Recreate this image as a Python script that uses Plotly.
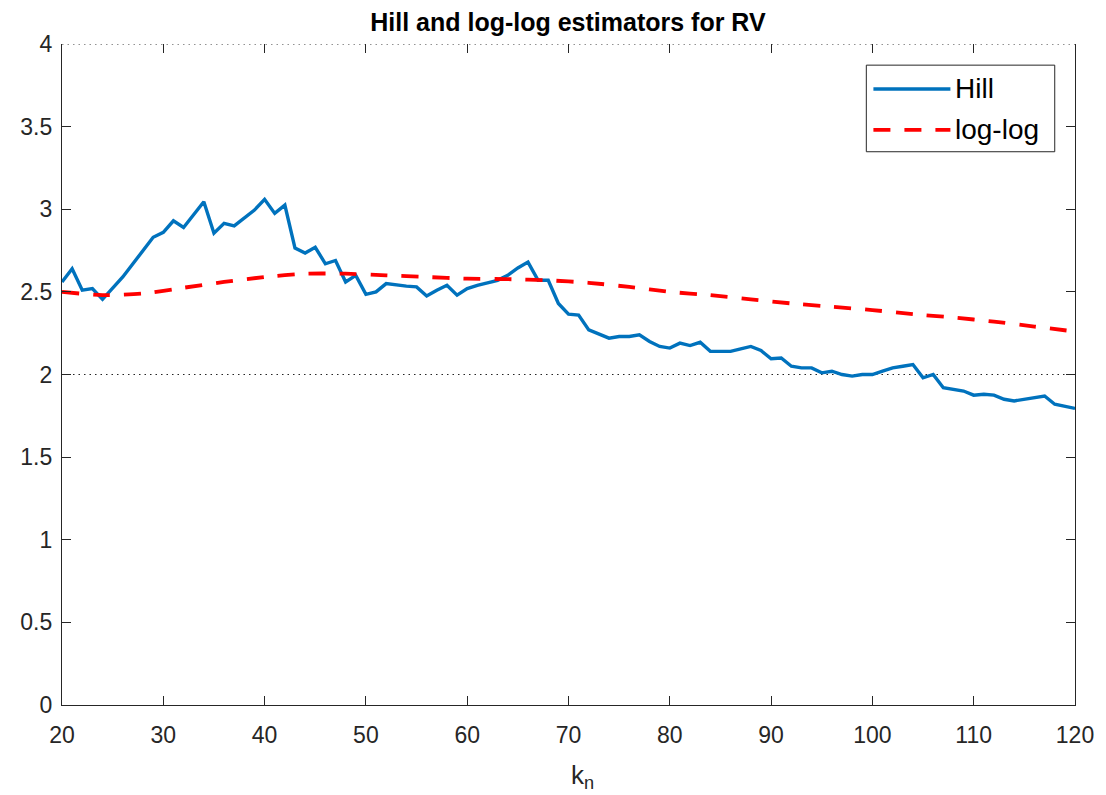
import plotly.graph_objects as go

# Number of upper order statistics used by each estimator
k_hill = list(range(20, 121))

# Hill estimates of the tail index, one per k
hill = [
    2.56, 2.64, 2.51, 2.52, 2.455, 2.525, 2.59, 2.67, 2.75, 2.83,
    2.86, 2.93, 2.89, 2.965, 3.045, 2.855, 2.915, 2.90, 2.945, 2.995,
    3.06, 2.975, 3.025, 2.765, 2.735, 2.77, 2.67, 2.69, 2.56, 2.60,
    2.485, 2.50, 2.55, 2.54, 2.535, 2.53, 2.475, 2.51, 2.54, 2.48,
    2.52, 2.54, 2.555, 2.57, 2.60, 2.645, 2.68, 2.57, 2.57, 2.43,
    2.365, 2.36, 2.27, 2.245, 2.22, 2.23, 2.23, 2.24, 2.20, 2.17,
    2.16, 2.19, 2.175, 2.195, 2.14, 2.14, 2.14, 2.155, 2.17, 2.145,
    2.095, 2.10, 2.05, 2.04, 2.04, 2.01, 2.02, 2.00, 1.99, 2.00,
    2.00, 2.02, 2.04, 2.05, 2.06, 1.98, 2.00, 1.92, 1.91, 1.90,
    1.875, 1.88, 1.875, 1.85, 1.84, 1.85, 1.865, 1.87, 1.82, 1.81,
    1.795,
]

# log-log (regression) estimates of the tail index
k_loglog = [20, 24, 28, 32, 36, 40, 44, 48, 52, 56, 60, 64, 68,
            72, 76, 80, 84, 88, 92, 96, 100, 104, 108, 112, 116, 120]
loglog = [2.50, 2.48, 2.49, 2.525, 2.56, 2.59, 2.61, 2.61, 2.60, 2.59,
          2.58, 2.577, 2.57, 2.555, 2.53, 2.50, 2.48, 2.455, 2.43, 2.41,
          2.39, 2.365, 2.345, 2.32, 2.29, 2.26]

x_ticks = [20, 30, 40, 50, 60, 70, 80, 90, 100, 110, 120]
y_ticks = [0, 0.5, 1, 1.5, 2, 2.5, 3, 3.5, 4]
y_tick_text = ["0", "0.5", "1", "1.5", "2", "2.5", "3", "3.5", "4"]
ref_levels = [2, 4]

BLUE = "#0072BD"
RED = "#FF0000"
AXIS = "#262626"
FONT = "Liberation Sans, Arial, sans-serif"

fig = go.Figure()

fig.add_trace(go.Scatter(x=k_hill, y=hill, mode="lines", name="Hill",
                         line=dict(color=BLUE, width=3.4)))
fig.add_trace(go.Scatter(x=k_loglog, y=loglog, mode="lines", name="log-log",
                         line=dict(color=RED, width=3.8, dash="17px,14px",
                                   shape="spline", smoothing=0.6)))

# dotted reference levels
for lv in ref_levels:
    fig.add_shape(type="line", xref="x", yref="y", x0=20, x1=120, y0=lv, y1=lv,
                  line=dict(color=AXIS, width=1.2, dash="1.5px,4px"), layer="below")

# legend box drawn by hand so the line samples are full length
fig.add_shape(type="rect", xref="paper", yref="paper", x0=0.794, x1=0.980,
              y0=0.837, y1=0.968, line=dict(color=AXIS, width=1),
              fillcolor="white")
fig.add_shape(type="line", xref="paper", yref="paper", x0=0.801, x1=0.877,
              y0=0.932, y1=0.932, line=dict(color=BLUE, width=3.4))
fig.add_shape(type="line", xref="paper", yref="paper", x0=0.801, x1=0.877,
              y0=0.870, y1=0.870, line=dict(color=RED, width=3.8, dash="17px,14px"))
for label, yy in [("Hill", 0.932), ("log-log", 0.870)]:
    fig.add_annotation(xref="paper", yref="paper", x=0.880, y=yy, text=label,
                       showarrow=False, xanchor="left", yanchor="middle",
                       font=dict(family=FONT, size=28, color="black"))

fig.update_layout(
    width=1106, height=795,
    margin=dict(l=62, r=29, t=44, b=90),
    paper_bgcolor="white", plot_bgcolor="white",
    showlegend=False,
    font=dict(family=FONT, color=AXIS),
    title=dict(text="<b>Hill and log-log estimators for RV</b>", x=0.5135,
               xanchor="center", y=0.972, yanchor="middle",
               font=dict(family=FONT, size=25, color="black")),
    xaxis=dict(range=[20, 120], tickvals=x_ticks, ticks="inside", ticklen=9,
               tickcolor=AXIS, showline=True, linecolor=AXIS, linewidth=1.2,
               mirror=False, showgrid=False, zeroline=False,
               ticklabelstandoff=9,
               tickfont=dict(family=FONT, size=23, color=AXIS)),
    xaxis2=dict(range=[20, 120], tickvals=x_ticks, ticks="inside", ticklen=9,
                tickcolor=AXIS, overlaying="x", side="top", showline=False,
                showticklabels=False, showgrid=False, zeroline=False),
    yaxis=dict(range=[0, 4], tickvals=y_ticks, ticktext=y_tick_text,
               ticks="inside", ticklen=9, tickcolor=AXIS, showline=True,
               linecolor=AXIS, linewidth=1.2, mirror="ticks", showgrid=False,
               zeroline=False, ticklabelstandoff=4,
               tickfont=dict(family=FONT, size=23, color=AXIS)),
)

# axis label placed under the tick labels
fig.add_annotation(xref="paper", yref="paper", x=0.5135, y=-0.108,
                   text="k<sub>n</sub>", showarrow=False, xanchor="center",
                   yanchor="middle", font=dict(family=FONT, size=26, color=AXIS))

# invisible trace so the top tick axis is drawn
fig.add_trace(go.Scatter(x=[20, 120], y=[None, None], xaxis="x2",
                         mode="lines", showlegend=False, hoverinfo="skip"))

fig.write_html("out.html")
